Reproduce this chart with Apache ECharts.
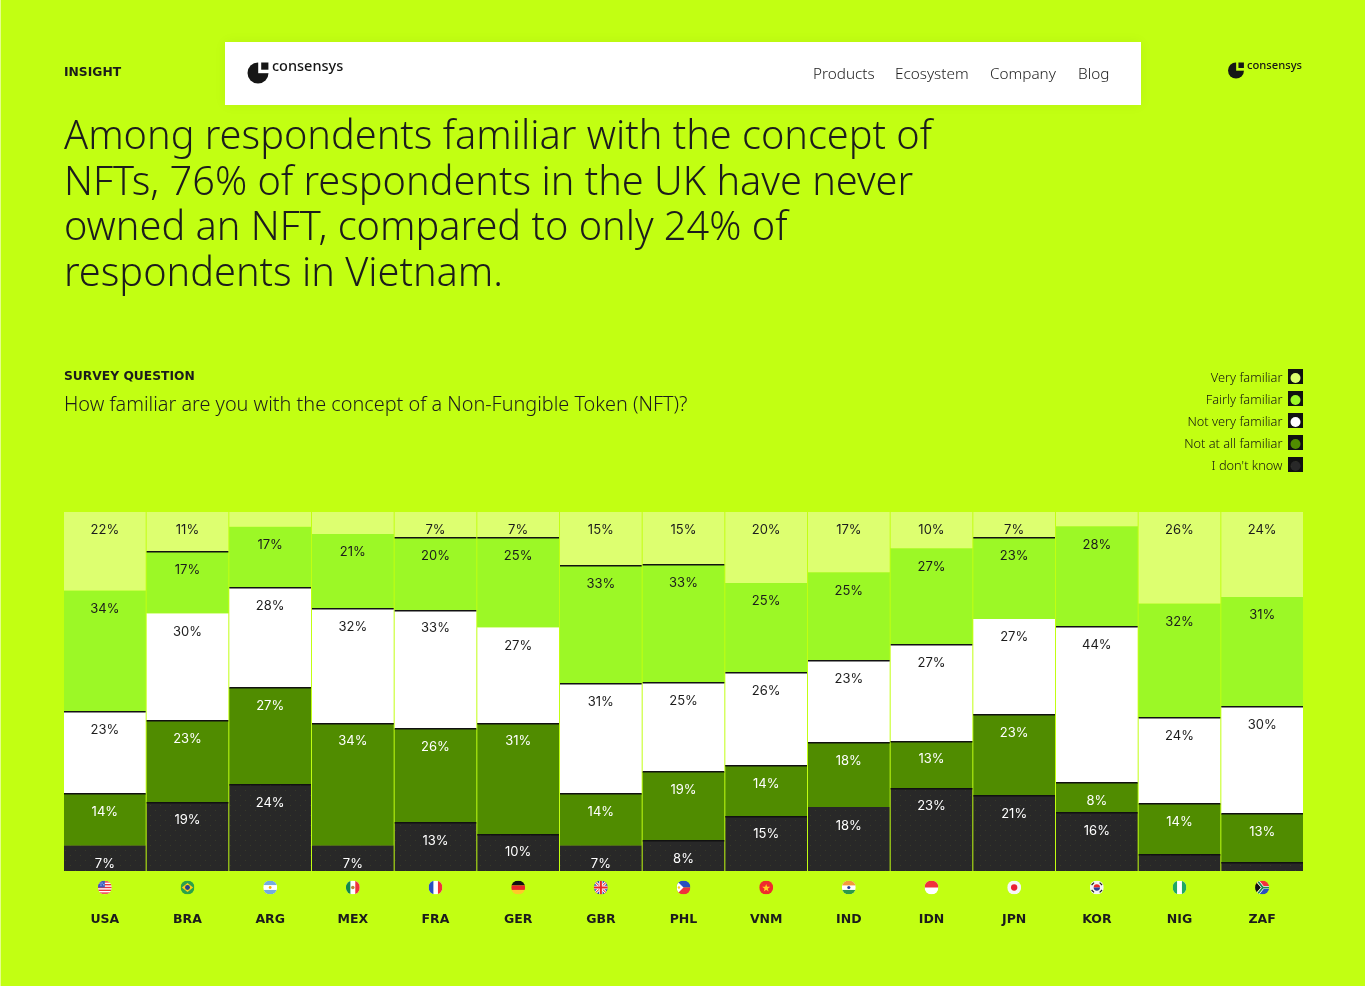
<!DOCTYPE html>
<html><head><meta charset="utf-8">
<style>html,body{margin:0;padding:0;background:#C2FF12}#c{width:1365px;height:986px}</style>
<script src="https://cdn.jsdelivr.net/npm/echarts@6/dist/echarts.min.js"></script>
</head><body><div id="c"></div>
<script>
const countries=['USA','BRA','ARG','MEX','FRA','GER','GBR','PHL','VNM','IND','IDN','JPN','KOR','NIG','ZAF'];
const veryFamiliar=[21.9,10.9,4.1,6.1,7,7,14.9,14.7,19.8,16.8,10.1,7,4,25.5,23.7];
const fairlyFamiliar=[33.7,17.3,17,20.9,20.3,25.1,32.9,32.9,24.8,24.5,26.7,22.8,27.9,31.8,30.6];
const notVeryFamiliar=[22.8,29.8,27.9,31.8,33.1,26.7,30.6,24.8,25.9,22.8,27,26.5,43.5,24,29.8];
const notAtAllFamiliar=[14.4,22.8,27,34,26.2,30.9,14.4,19.2,14.2,18.1,13.1,22.8,8.4,14.2,13.4];
const dontKnow=[7.2,19.2,24,7.2,13.4,10.3,7.2,8.4,15.3,17.8,23.1,20.9,16.2,4.5,2.5];
// which segment tops carry a thin dark rule (1 = yes), per country
const ruleOnFairly=[0,1,0,0,1,1,1,1,0,0,0,1,0,0,0];
const ruleOnNotVery=[1,0,1,1,1,0,1,1,1,1,1,0,1,1,1];
const ruleOnNotAtAll=[1,1,1,1,1,1,1,1,1,1,1,1,1,1,1];
const ruleOnDontKnow=[0,1,1,0,1,1,0,1,1,0,1,1,1,1,1];
const headline='Among respondents familiar with the concept of\nNFTs, 76% of respondents in the UK have never\nowned an NFT, compared to only 24% of\nrespondents in Vietnam.';
const question='How familiar are you with the concept of a Non-Fungible Token (NFT)?';
const navItems=['Products','Ecosystem','Company','Blog'];

const BG='#C2FF12',INK='#1c1c1c',FONT='"Noto Sans"',NUM='Inter',BOLD='"DejaVu Sans"';
const colors={very:'#DDFF70',fairly:'#9CF826',notVery:'#FFFFFF',notAtAll:'#508C00',dk:'#282828'};
const flagBodies={
USA:'<rect width="40" height="40" fill="#fff"/><g fill="#f0323c"><rect y="2" width="40" height="4"/><rect y="10" width="40" height="4"/><rect y="18" width="40" height="4"/><rect y="26" width="40" height="4"/><rect y="34" width="40" height="4"/></g><rect width="20" height="20" fill="#3b5bc0"/><g fill="#fff"><circle cx="6" cy="7" r="1.5"/><circle cx="12" cy="7" r="1.5"/><circle cx="17" cy="12" r="1.5"/><circle cx="9" cy="13" r="1.5"/></g>',
BRA:'<rect width="40" height="40" fill="#2ba14b"/><path d="M20 7L36 20L20 33L4 20Z" fill="#fcd116"/><circle cx="20" cy="20" r="7" fill="#27408b"/>',
ARG:'<rect width="40" height="40" fill="#fff"/><rect width="40" height="13" fill="#74acdf"/><rect y="27" width="40" height="13" fill="#74acdf"/><circle cx="20" cy="20" r="4" fill="#f6b40e"/>',
MEX:'<rect width="40" height="40" fill="#fff"/><rect width="13" height="40" fill="#12894a"/><rect x="27" width="13" height="40" fill="#f0323c"/><circle cx="20" cy="20" r="5" fill="#b58a3c"/>',
FRA:'<rect width="40" height="40" fill="#fff"/><rect width="14" height="40" fill="#2a4fc0"/><rect x="27" width="13" height="40" fill="#f0323c"/>',
GER:'<rect width="40" height="14" fill="#111"/><rect y="14" width="40" height="13" fill="#e8262b"/><rect y="27" width="40" height="13" fill="#ffc82a"/>',
GBR:'<rect width="40" height="40" fill="#2f4db0"/><path d="M0 0L40 40M40 0L0 40" stroke="#fff" stroke-width="8"/><path d="M0 0L40 40M40 0L0 40" stroke="#e8262b" stroke-width="3"/><path d="M20 0V40M0 20H40" stroke="#fff" stroke-width="10"/><path d="M20 0V40M0 20H40" stroke="#e8262b" stroke-width="6"/>',
PHL:'<rect width="40" height="20" fill="#2a4fc0"/><rect y="20" width="40" height="20" fill="#f0323c"/><path d="M0 0L20 20L0 40Z" fill="#fff"/><circle cx="7" cy="20" r="3.5" fill="#fcd116"/>',
VNM:'<rect width="40" height="40" fill="#ef2b2d"/><path d="M20 10L22.9 18.2L31.4 18.2L24.5 23.3L27 31.5L20 26.5L13 31.5L15.5 23.3L8.6 18.2L17.1 18.2Z" fill="#ffd21f"/>',
IND:'<rect width="40" height="40" fill="#fff"/><rect width="40" height="14" fill="#f39a3c"/><rect y="27" width="40" height="13" fill="#2c9a48"/><circle cx="20" cy="20" r="4.5" fill="#2a3f9a"/>',
IDN:'<rect width="40" height="40" fill="#fff"/><rect width="40" height="20" fill="#f0323c"/>',
JPN:'<rect width="40" height="40" fill="#f6f6f6"/><circle cx="20" cy="20" r="9" fill="#ea1f33"/>',
KOR:'<rect width="40" height="40" fill="#f4f4f4"/><path d="M11 20A9 9 0 0 1 29 20Z" fill="#e8262b"/><path d="M11 20A9 9 0 0 0 29 20Z" fill="#2a3f9a"/><g stroke="#222" stroke-width="3.5"><path d="M5 13L12 6M28 6L35 13M5 27L12 34M28 34L35 27"/></g>',
NIG:'<rect width="40" height="40" fill="#fff"/><rect width="13" height="40" fill="#1fa860"/><rect x="27" width="13" height="40" fill="#1fa860"/>',
ZAF:'<rect width="40" height="20" fill="#f0323c"/><rect y="20" width="40" height="20" fill="#2a4fc0"/><path d="M0 0L20 20L0 40" fill="#111" stroke="#f5c518" stroke-width="4"/><path d="M6 0L22 20H40M6 40L22 20" fill="none" stroke="#fff" stroke-width="9"/><path d="M6 0L22 20H40M6 40L22 20" fill="none" stroke="#1a8a4a" stroke-width="5"/><path d="M0 4L13 20L0 36Z" fill="#111"/>'
};
function flagUri(code){
  const svg='<svg xmlns="http://www.w3.org/2000/svg" width="42" height="42" viewBox="0 0 40 40"><defs><clipPath id="c"><circle cx="20" cy="20" r="20"/></clipPath></defs><g clip-path="url(#c)">'+flagBodies[code]+'</g></svg>';
  return 'data:image/svg+xml;charset=utf-8,'+encodeURIComponent(svg);
}
const flagImages=countries.map(flagUri);

function seg(name,data,color,labelColor,extra){
  return Object.assign({name,type:'bar',stack:'t',data,barWidth:81.67,
    itemStyle:{color},
    label:{show:true,position:'insideTop',distance:12,color:labelColor,fontFamily:NUM,fontSize:13,fontWeight:400,
      formatter:p=>p.value<6.5?'':Math.round(p.value)+'%'}},extra||{});
}
const stacksBelow=(arrs,i)=>arrs.reduce((s,a)=>s+a[i],0);
const ruleData=[];
countries.forEach((c,i)=>{
  if(ruleOnDontKnow[i]) ruleData.push([i,stacksBelow([dontKnow],i)]);
  if(ruleOnNotAtAll[i]) ruleData.push([i,stacksBelow([dontKnow,notAtAllFamiliar],i)]);
  if(ruleOnNotVery[i]) ruleData.push([i,stacksBelow([dontKnow,notAtAllFamiliar,notVeryFamiliar],i)]);
  if(ruleOnFairly[i]) ruleData.push([i,stacksBelow([dontKnow,notAtAllFamiliar,notVeryFamiliar,fairlyFamiliar],i)]);
});

function logo(cx,cy,r,cut,txt,tx,ty,fs){
  const u=r/10.5;
  return [
   {type:'circle',shape:{cx,cy,r},style:{fill:'#161616'}},
   {type:'rect',shape:{x:cx+0.2*u,y:cy-r-0.5,width:r+1,height:r+0.7},style:{fill:cut}},
   {type:'rect',shape:{x:cx+3.2*u,y:cy-r,width:7.2*u,height:7.2*u},style:{fill:'#161616'}},
   {type:'text',x:tx,y:ty,style:{text:txt,fill:'#161616',font:'500 '+fs+'px '+FONT,textVerticalAlign:'middle'}}
  ];
}
const legendRows=[['Very familiar',colors.very],['Fairly familiar',colors.fairly],['Not very familiar',colors.notVery],['Not at all familiar',colors.notAtAll],["I don't know",colors.dk]];
const legendSquares=legendRows.map((r,i)=>({type:'rect',z:-1,shape:{x:1288,y:369+22*i,width:15,height:15},style:{fill:'#111'}}));
const navX=[813,895,990,1078];
const graphics=[
 {type:'rect',shape:{x:0,y:0,width:1,height:986},style:{fill:'#E6FF8C'}},
 {type:'rect',shape:{x:225,y:42,width:916,height:63},style:{fill:'#fff',shadowBlur:12,shadowColor:'rgba(0,0,0,0.05)'}},
 {type:'text',x:64,y:72.5,style:{text:'INSIGHT',fill:INK,font:'700 12.3px '+BOLD,textVerticalAlign:'middle'}},
 {type:'text',x:64,y:376.5,style:{text:'SURVEY QUESTION',fill:INK,font:'700 12.3px '+BOLD,textVerticalAlign:'middle'}},
 {type:'text',x:64,y:405,style:{text:question,fill:INK,font:'300 19.85px '+FONT,textVerticalAlign:'middle'}},
 ...navItems.map((t,i)=>({type:'text',x:navX[i],y:75,style:{text:t,fill:INK,font:'300 15.3px '+FONT,textVerticalAlign:'middle'}})),
 ...logo(258,73,10.5,'#fff','consensys',272,66.5,14.5),
 ...logo(1236,70.5,8,BG,'consensys',1247,65.5,11.2),
 ...legendSquares
];
const chart=echarts.init(document.getElementById('c'),null,{renderer:'canvas'});
chart.setOption({
 animation:false,backgroundColor:BG,
 title:{text:headline,left:64,top:115,padding:0,textStyle:{fontFamily:'Noto Sans',fontWeight:300,fontSize:39.7,lineHeight:45.5,color:INK}},
 grid:{left:63.5,width:1240,top:512,height:359,containLabel:false},
 legend:{show:true,orient:'vertical',right:64.5,top:371,padding:0,align:'right',selectedMode:false,itemWidth:10,itemHeight:10,itemGap:8,
   icon:'circle',textStyle:{fontFamily:'Noto Sans',fontWeight:300,fontSize:12.8,color:'#111',lineHeight:14,padding:[0,3,0,0]},
   data:legendRows.map(r=>r[0])},
 xAxis:{type:'category',data:countries,axisLine:{show:false},axisTick:{show:false},
   axisLabel:{margin:42,fontFamily:'DejaVu Sans',fontWeight:700,fontSize:12.5,color:INK,interval:0}},
 yAxis:{type:'value',min:0,max:100,show:false},
 graphic:{elements:graphics},
 series:[
  seg("I don't know",dontKnow,colors.dk,'#fff',{itemStyle:{color:colors.dk,decal:{symbol:'circle',symbolSize:1,color:'rgba(150,170,40,0.2)',dashArrayX:[[1,9],[0,5,1,4]],dashArrayY:[1,4]}}}),
  seg('Not at all familiar',notAtAllFamiliar,colors.notAtAll,'#fff'),
  seg('Not very familiar',notVeryFamiliar,colors.notVery,INK),
  seg('Fairly familiar',fairlyFamiliar,colors.fairly,INK),
  seg('Very familiar',veryFamiliar,colors.very,INK),
  {type:'custom',name:'rules',data:ruleData,silent:true,z:5,clip:false,
   renderItem:(p,api)=>{const a=api.coord([api.value(0),api.value(1)]);const w=81.67;
     return {type:'rect',shape:{x:a[0]-w/2,y:Math.floor(a[1]),width:w,height:1.5},style:{fill:'#111'}};}},
  {type:'custom',name:'flags',data:countries.map((c,i)=>[i,0]),silent:true,z:6,clip:false,
   renderItem:(p,api)=>{const i=api.value(0);const a=api.coord([i,0]);
     return {type:'image',style:{image:flagImages[i],x:a[0]-7,y:a[1]+9.5,width:14,height:14}};}}
 ]
});
</script></body></html>
